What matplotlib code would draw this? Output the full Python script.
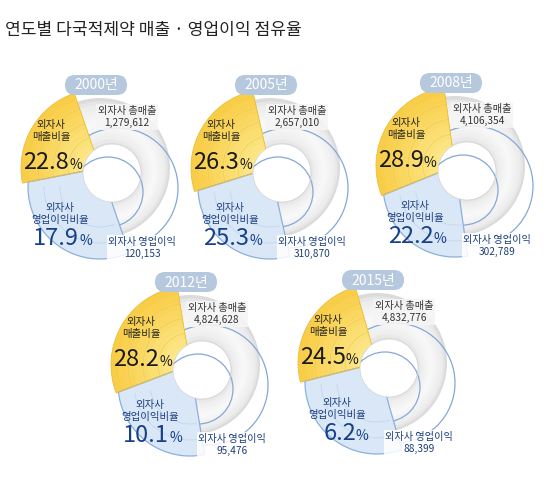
import numpy as np
import matplotlib.pyplot as plt
from matplotlib.patches import Circle, Wedge, Polygon, FancyBboxPatch, Arc

plt.rcParams['font.family'] = ['Noto Sans CJK KR', 'DejaVu Sans']

###  DATA  ###
years = ['2000', '2005', '2008', '2012', '2015']
sales_share = [22.8, 26.3, 28.9, 28.2, 24.5]      # 외자사 매출비율 (%)
profit_share = [17.9, 25.3, 22.2, 10.1, 6.2]      # 외자사 영업이익비율 (%)
total_sales = [1279612, 2657010, 4106354, 4824628, 4832776]
op_profit = [120153, 310870, 302789, 95476, 88399]

###  LAYOUT (pixels, y from top)  ###
W, H = 550, 490
centres = [(100, 168), (270, 168), (455, 166), (190, 365), (377, 363)]
R_GRAY, R_YEL = 70, 79
HOLE_OFF, R_HOLE = (12, 5), 29
BLUE_DROP, R_BLUE = 19, 72
NAVY = '#1d3e7d'
BLUE_LINE = '#85a8d8'

fig = plt.figure(figsize=(W / 100, H / 100), dpi=100)
ax = fig.add_axes([0, 0, 1, 1])
ax.set_xlim(0, W)
ax.set_ylim(0, H)
ax.axis('off')


def mix(c1, c2, t):
    a = np.array(plt.matplotlib.colors.to_rgb(c1))
    b = np.array(plt.matplotlib.colors.to_rgb(c2))
    return tuple(a + (b - a) * t)


def blue_shape(c, a1, a2):
    c2 = c + np.array([0, -BLUE_DROP])
    d = c - c2
    angs = []
    for a in (a1, a2):
        u = np.array([np.cos(np.radians(a)), np.sin(np.radians(a))])
        b = u @ d
        t = -b + np.sqrt(b * b - (d @ d - R_BLUE ** 2))
        p = c + t * u
        angs.append(np.degrees(np.arctan2(p[1] - c2[1], p[0] - c2[0])) % 360)
    phi = np.radians(np.linspace(angs[0], angs[1], 80))
    arc = np.column_stack([c2[0] + R_BLUE * np.cos(phi), c2[1] + R_BLUE * np.sin(phi)])
    return np.vstack([c, arc]), c2, angs


for i, yr in enumerate(years):
    c = np.array([centres[i][0], H - centres[i][1]], dtype=float)
    hole = c + np.array([HOLE_OFF[0], -HOLE_OFF[1]])

    # gray torus-like ring
    tt = np.linspace(0, 0.97, 14)
    lv = np.interp(tt, [0, 0.12, 0.5, 0.85, 0.97], [0.86, 0.925, 0.975, 0.935, 0.88])
    for t, g in zip(tt, lv):
        cc = c + (hole - c) * t
        rr = R_GRAY + (R_HOLE - R_GRAY) * t
        ax.add_patch(Circle(cc, rr, fc=(g, g, g), ec='none', zorder=1))

    # blue outline rings (operating profit)
    outer_c = c + np.array([18, -20])
    inner_c = c + np.array([8, -24])
    ax.add_patch(Circle(outer_c, 60, fc='none', ec=BLUE_LINE, lw=0.9, zorder=2))
    ax.add_patch(Circle(inner_c, 35, fc='none', ec=BLUE_LINE, lw=0.9, zorder=2))

    # yellow wedge: share of sales
    span = sales_share[i] * 3.6
    ys, ye = 150 - span / 2, 150 + span / 2
    for k, r in enumerate(np.linspace(R_YEL, 12, 10)):
        ax.add_patch(Wedge(c, r, ys, ye, fc=mix('#f8cd48', '#fdeb92', k / 9),
                           ec='none', zorder=3))
    ax.add_patch(Wedge(c, R_YEL, ys, ye, fc='none', ec='#edbd3a', lw=0.6, zorder=3.2))
    for r in (32, 47, 62):
        ax.add_patch(Arc(c, 2 * r, 2 * r, theta1=ys, theta2=ye, color='#efc850',
                         lw=0.6, alpha=0.7, zorder=3.1))

    # blue wedge: share of operating profit
    pts, c2, angs = blue_shape(c, ye, ys + 180)
    ax.add_patch(Polygon(pts, closed=True, fc='#d9e7f7', ec='#8cb0dc', lw=0.9, zorder=3))
    for r in (40, 56):
        ax.add_patch(Arc(c2, 2 * r, 2 * r, theta1=angs[0] + 3, theta2=angs[1] - 2,
                         color='#c3d7ee', lw=0.6, zorder=3.1))

    # hole
    hp = Circle(hole, R_HOLE, fc='white', ec='#d3d3d3', lw=0.5, zorder=4)
    ax.add_patch(hp)
    ic = Circle(inner_c, 35, fc='none', ec=BLUE_LINE, lw=0.9, zorder=5)
    ax.add_patch(ic)
    ic.set_clip_path(hp)

    # year pill
    px, py = c[0] - 4, c[1] + 83
    ax.add_patch(FancyBboxPatch((px - 31, py - 10), 62, 20,
                                boxstyle='round,pad=0,rounding_size=10',
                                fc='#b6c8dd', ec='none', zorder=6))
    ax.text(px, py - 0.5, yr + '년', ha='center', va='center', fontsize=10,
            color='white', fontweight='medium', zorder=7)

    # labels
    ax.text(c[0] - 49, c[1] + 37, '외자사\n매출비율', ha='center', va='center',
            fontsize=7.5, color='#222222', linespacing=1.3, zorder=7)
    ax.text(c[0] - 31, c[1] - 1, f'{sales_share[i]:.1f}', ha='right', va='baseline',
            fontsize=17, color='#1a1a1a', zorder=7)
    ax.text(c[0] - 31, c[1] - 1, '%', ha='left', va='baseline',
            fontsize=10, color='#1a1a1a', zorder=7)

    ax.text(c[0] - 40, c[1] - 46, '외자사\n영업이익비율', ha='center', va='center',
            fontsize=7.5, color=NAVY, linespacing=1.3, zorder=7)
    ax.text(c[0] - 21, c[1] - 77, f'{profit_share[i]:.1f}', ha='right', va='baseline',
            fontsize=17, color='#16418a', zorder=7)
    ax.text(c[0] - 21, c[1] - 77, '%', ha='left', va='baseline',
            fontsize=10, color='#16418a', zorder=7)

    ax.text(c[0] + 27, c[1] + 51, f'외자사 총매출\n{total_sales[i]:,}', ha='center',
            va='center', fontsize=7.3, color='#333333', linespacing=1.3, zorder=7,
            bbox=dict(fc='#f5f5f5', ec='none', alpha=0.9, pad=1.5))
    ax.text(c[0] + 42, c[1] - 80, f'외자사 영업이익\n{op_profit[i]:,}', ha='center',
            va='center', fontsize=7.3, color=NAVY, linespacing=1.3, zorder=7,
            bbox=dict(fc='white', ec='none', alpha=0.85, pad=1.0))

ax.text(5, H - 30, '연도별 다국적제약 매출 · 영업이익 점유율', ha='left', va='center',
        fontsize=12.3, color='#222222')

fig.savefig('out.png', dpi=100)
